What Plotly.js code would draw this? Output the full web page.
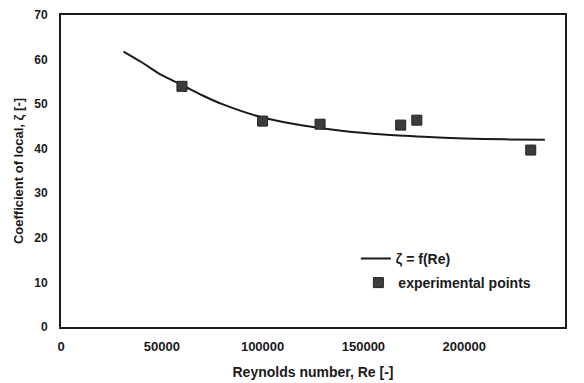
<!DOCTYPE html>
<html>
<head>
<meta charset="utf-8">
<script src="https://cdn.plot.ly/plotly-3.0.1.min.js"></script>
<style>html,body{margin:0;padding:0;background:#fff;}#chart{width:584px;height:383px;}</style>
</head>
<body>
<div id="chart"></div>
<script>
// Fitted curve zeta = f(Re)
const curveRe = [31000, 40000, 50000, 60000, 70000, 80000, 100000, 120000, 140000, 160000, 180000, 200000, 220000, 240000];
const curveZeta = [61.8, 59.4, 56.5, 54.3, 52.0, 50.0, 47.0, 45.2, 44.0, 43.2, 42.7, 42.3, 42.1, 42.0];
// Experimental points
const expRe = [60000, 100000, 128500, 168500, 176500, 233000];
const expZeta = [54.0, 46.2, 45.5, 45.3, 46.4, 39.7];
// Axis ticks
const xTicks = [0, 50000, 100000, 150000, 200000, 250000];
const yTicks = [0, 10, 20, 30, 40, 50, 60, 70];

const fontFam = '"Liberation Sans", Arial, sans-serif';
const traces = [
  {x: curveRe, y: curveZeta, mode: 'lines', name: '<b>ζ = f(Re)</b>', legend: 'legend', line: {color: '#1a1a1a', width: 2, shape: 'spline', smoothing: 0.8}},
  {x: expRe, y: expZeta, mode: 'markers', name: '<b>experimental points</b>', legend: 'legend2', marker: {symbol: 'square', size: 10, color: '#3c3c3c', line: {color: '#222', width: 1}}}
];
const legFont = {size: 14, family: fontFam, color: '#1a1a1a'};
const layout = {
  width: 584, height: 383,
  margin: {l: 61, r: 19, t: 15, b: 56},
  paper_bgcolor: '#fff', plot_bgcolor: '#fff',
  font: {family: fontFam, color: '#1a1a1a', size: 12},
  showlegend: true,
  legend: {x: 0.585, y: 0.218, xanchor: 'left', yanchor: 'middle', bgcolor: 'rgba(0,0,0,0)', font: legFont},
  legend2: {x: 0.59, y: 0.141, xanchor: 'left', yanchor: 'middle', bgcolor: 'rgba(0,0,0,0)', font: legFont},
  xaxis: {
    range: [0, 250000], tickvals: xTicks, ticktext: xTicks.map(v => '<b>' + v + '</b>'),
    showgrid: false, zeroline: false, showline: true, mirror: true, linecolor: '#1a1a1a', linewidth: 2,
    ticks: '', ticklabelstandoff: 6, tickfont: {size: 13},
    title: {text: '<b>Reynolds number, Re [-]</b>', font: {size: 14}, standoff: 15}
  },
  yaxis: {
    range: [0, 70], tickvals: yTicks, ticktext: yTicks.map(v => '<b>' + v + '</b>'),
    showgrid: false, zeroline: false, showline: true, mirror: true, linecolor: '#1a1a1a', linewidth: 2,
    ticks: '', ticklabelstandoff: 9, tickfont: {size: 12},
    title: {text: '<b>Coefficient of local, ζ [-]</b>', font: {size: 13}, standoff: 8}
  }
};
Plotly.newPlot('chart', traces, layout, {displayModeBar: false, staticPlot: true});
</script>
</body>
</html>
